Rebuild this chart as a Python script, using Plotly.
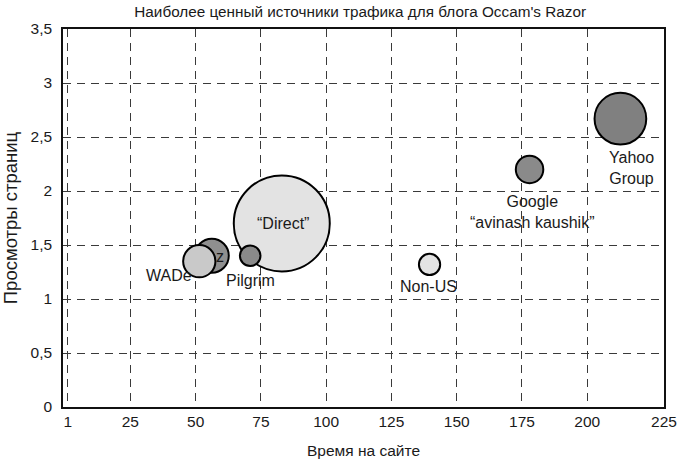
import plotly.graph_objects as go

# ---- data ----
sources = ["\u201cDirect\u201d", "z", "WADe", "Pilgrim", "Non-US",
           "Google<br>\u201cavinash kaushik\u201d", "Yahoo<br>Group"]
time_on_site = [83.0, 56.2, 51.4, 70.9, 139.6, 177.9, 212.7]
page_views = [1.70, 1.40, 1.35, 1.40, 1.32, 2.20, 2.67]
visits = [100, 12.5, 11.3, 4.6, 4.9, 8.2, 29.0]
fill_colors = ["#e3e3e3", "#8f8f8f", "#c9c9c9", "#8a8a8a", "#e3e3e3", "#8a8a8a", "#808080"]

x_tick_vals = [1, 25, 50, 75, 100, 125, 150, 175, 200, 229.4]
x_tick_text = ["1", "25", "50", "75", "100", "125", "150", "175", "200", "225"]
y_tick_vals = [0, 0.5, 1, 1.5, 2, 2.5, 3, 3.5]

title = "Наиболее ценный источники трафика для блога Occam's Razor"
x_title = "Время на сайте"
y_title = "Просмотры страниц"

# label offsets (px) relative to bubble centers
label_dx = [1, 8, -30, 0, -1, 3, 11]
label_dy = [0, -1, -14, -25, -22, -43, -49]

FONT = "Liberation Sans, Arial, sans-serif"
TXT = "#1a1a1a"
max_d = 96

fig = go.Figure()
fig.add_trace(go.Scatter(
    x=time_on_site, y=page_views, mode="markers",
    marker=dict(size=visits, sizemode="area",
                sizeref=2.0 * max(visits) / (max_d ** 2),
                color=fill_colors, line=dict(color="#000000", width=2),
                opacity=1),
    hoverinfo="skip", showlegend=False,
))

for name, x, y, dx, dy in zip(sources, time_on_site, page_views, label_dx, label_dy):
    fig.add_annotation(x=x, y=y, text=name, showarrow=False,
                       xshift=dx, yshift=dy,
                       font=dict(family=FONT, size=16, color=TXT))

grid = dict(showgrid=True, gridcolor="#3a3a3a", gridwidth=1, griddash="8px,6px",
            showline=True, linecolor="#111111", linewidth=1.5, mirror=True,
            zeroline=False, ticks="", tickfont=dict(family=FONT, size=15.5, color=TXT))

fig.update_layout(
    width=677, height=460,
    margin=dict(l=63, r=13, t=29, b=53, autoexpand=False),
    paper_bgcolor="white", plot_bgcolor="white",
    separators=", ",
    title=dict(text=title, x=0.532, xanchor="center", y=0.975, yanchor="middle",
               font=dict(family=FONT, size=15.3, color=TXT)),
    xaxis=dict(range=[-0.8, 229.4], tickmode="array", tickvals=x_tick_vals,
               ticktext=x_tick_text, ticklabelstandoff=0, ticklabeloverflow="allow",
               title=dict(text=x_title, standoff=16,
                          font=dict(family=FONT, size=15.5, color=TXT)),
               **grid),
    yaxis=dict(range=[0, 3.5], tickmode="array", tickvals=y_tick_vals,
               ticklabelstandoff=6,
               title=dict(text=y_title, standoff=17,
                          font=dict(family=FONT, size=18.5, color=TXT)),
               **grid),
)

fig.write_html("out.html", config={"displayModeBar": False},
               post_script="document.body.style.margin='0px';")
